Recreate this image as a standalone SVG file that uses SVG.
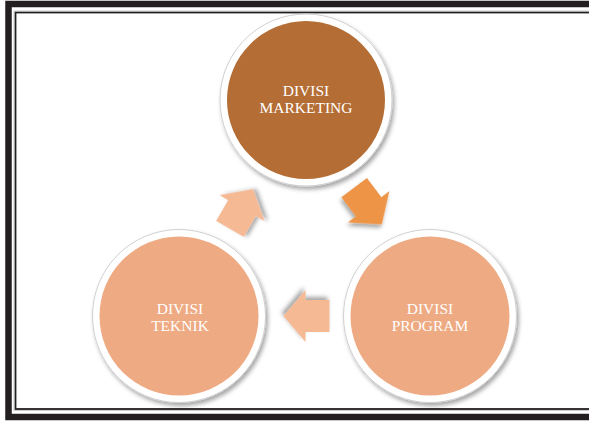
<svg xmlns="http://www.w3.org/2000/svg" width="589" height="421" viewBox="0 0 589 421">
<defs>
<filter id="sh" x="-20%" y="-20%" width="150%" height="150%">
<feDropShadow dx="2" dy="3" stdDeviation="2.2" flood-color="#000" flood-opacity="0.35"/>
</filter>
<path id="arr" d="M-23,-16 L1,-16 L1,-26 L23,0 L1,26 L1,16 L-23,16 Z"/>
</defs>
<style>
.ring{fill:#fff;stroke:#d0d0d0;stroke-width:1}
.dark{fill:#B46E35}
.light{fill:#EEAA82}
.t{font-family:"Liberation Serif",serif;font-size:15.5px;fill:#fff;text-anchor:middle}
</style>
<rect x="0" y="0" width="589" height="421" fill="#fff"/>
<g id="frame">
<rect x="8.5" y="4" width="700" height="413" fill="none" stroke="#231F20" stroke-width="6.5"/>
<rect x="15.5" y="12.5" width="700" height="396.5" fill="none" stroke="#231F20" stroke-width="1.8"/>
<rect x="14" y="11" width="700" height="399.5" fill="none" stroke="#aaa" stroke-width="0.6"/>
</g>
<g id="connectors">
<use href="#arr" transform="translate(368,206) rotate(53)" fill="#EE9447" filter="url(#sh)"/>
<use href="#arr" transform="translate(306.5,316) rotate(180)" fill="#F5B994" filter="url(#sh)"/>
<use href="#arr" transform="translate(241.5,209) rotate(-60)" fill="#F5B994" filter="url(#sh)"/>
</g>
<g id="marketing">
<circle cx="306" cy="100" r="86" class="ring" filter="url(#sh)"/>
<circle cx="306" cy="100" r="79" class="dark"/>
<text class="t" x="306" y="95.5">DIVISI</text>
<text class="t" x="306" y="112.5">MARKETING</text>
</g>
<g id="program">
<circle cx="430" cy="316" r="86.5" class="ring" filter="url(#sh)"/>
<circle cx="430" cy="316" r="79.5" class="light"/>
<text class="t" x="430" y="313.5">DIVISI</text>
<text class="t" x="430" y="330.5">PROGRAM</text>
</g>
<g id="teknik">
<circle cx="179" cy="316" r="86.5" class="ring" filter="url(#sh)"/>
<circle cx="179" cy="316" r="79.5" class="light"/>
<text class="t" x="180" y="313.5">DIVISI</text>
<text class="t" x="180" y="330.5">TEKNIK</text>
</g>
</svg>
